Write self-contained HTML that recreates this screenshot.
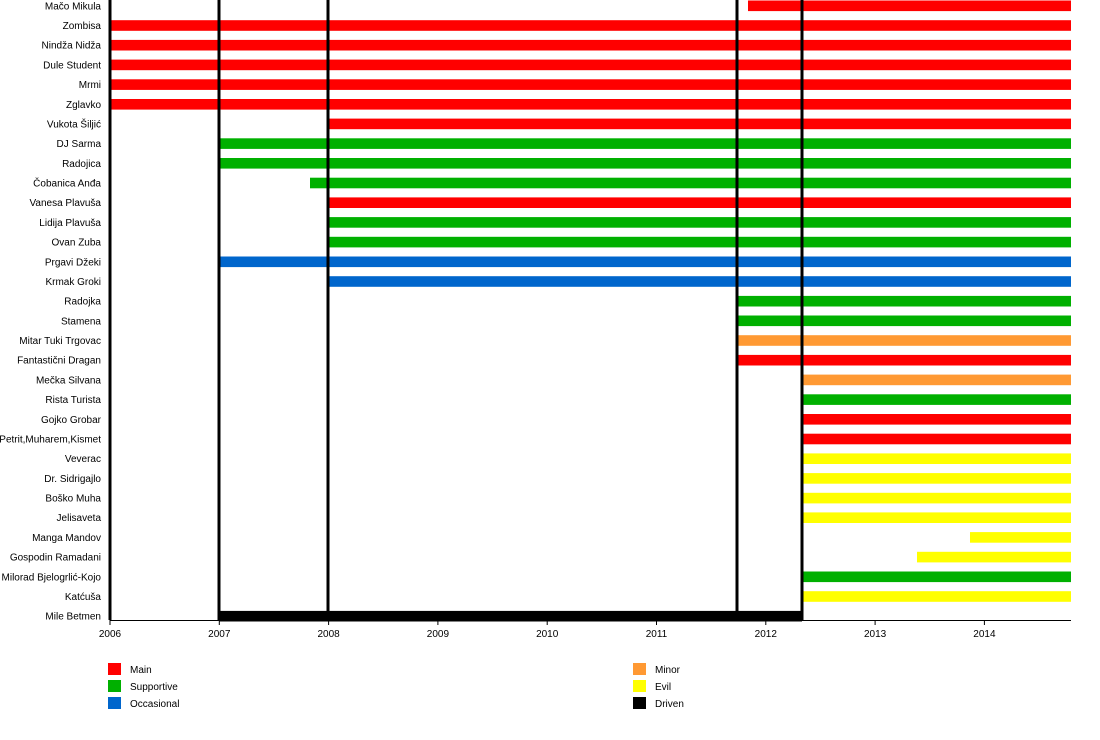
<!DOCTYPE html>
<html><head><meta charset="utf-8"><style>body{margin:0;background:#fff}svg{display:block}text{font-family:"Liberation Sans",sans-serif;font-size:10px;fill:#000}</style></head>
<body>
<svg width="1100" height="740" xmlns="http://www.w3.org/2000/svg" id="s">
<g id="bars"></g>
<g id="labels"></g>
</svg>
<script>
const rows=[
["Mačo Mikula","#ff0000",748],["Zombisa","#ff0000",110],["Nindža Nidža","#ff0000",110],["Dule Student","#ff0000",110],["Mrmi","#ff0000",110],["Zglavko","#ff0000",110],["Vukota Šiljić","#ff0000",328],["DJ Sarma","#00b000",219],["Radojica","#00b000",219],["Čobanica Anđa","#00b000",310],["Vanesa Plavuša","#ff0000",328],["Lidija Plavuša","#00b000",328],["Ovan Zuba","#00b000",328],["Prgavi Džeki","#0066cc",219],["Krmak Groki","#0066cc",328],["Radojka","#00b000",737],["Stamena","#00b000",737],["Mitar Tuki Trgovac","#ff9933",737],["Fantastični Dragan","#ff0000",737],["Mečka Silvana","#ff9933",802],["Rista Turista","#00b000",802],["Gojko Grobar","#ff0000",802],["Petrit,Muharem,Kismet","#ff0000",802],["Veverac","#ffff00",802],["Dr. Sidrigajlo","#ffff00",802],["Boško Muha","#ffff00",802],["Jelisaveta","#ffff00",802],["Manga Mandov","#ffff00",970],["Gospodin Ramadani","#ffff00",917],["Milorad Bjelogrlić-Kojo","#00b000",802],["Katćuša","#ffff00",802],["Mile Betmen","#000000",219,802]];
let h='';
rows.forEach((r,i)=>{const c=5.8+i*19.69;const e=r[3]||1071;
h+=`<rect x="${r[2]}" y="${(c-5.3).toFixed(1)}" width="${e-r[2]}" height="10.6" fill="${r[1]}"/>`;
h+=`<text x="101" y="${(c+3.5).toFixed(1)}" text-anchor="end">${r[0]}</text>`;});
[110,219,328,737,802].forEach(x=>{h+=`<rect x="${x-1.5}" y="0" width="3" height="620" fill="#000"/>`});
h+=`<line x1="110" y1="620.5" x2="1071" y2="620.5" stroke="#000" stroke-width="1"/>`;
for(let k=0;k<9;k++){const x=110+k*109.3;h+=`<line x1="${x}" y1="620" x2="${x}" y2="625" stroke="#000"/><text x="${x}" y="637" text-anchor="middle">${2006+k}</text>`;}
const leg=[[108,130,669,"#ff0000","Main"],[108,130,686,"#00b000","Supportive"],[108,130,703,"#0066cc","Occasional"],[633,655,669,"#ff9933","Minor"],[633,655,686,"#ffff00","Evil"],[633,655,703,"#000000","Driven"]];
leg.forEach(l=>{h+=`<rect x="${l[0]}" y="${l[2]-6}" width="13" height="12" fill="${l[3]}"/><text x="${l[1]}" y="${l[2]+4}">${l[4]}</text>`});
document.getElementById('bars').innerHTML=h;
</script>
</body></html>
